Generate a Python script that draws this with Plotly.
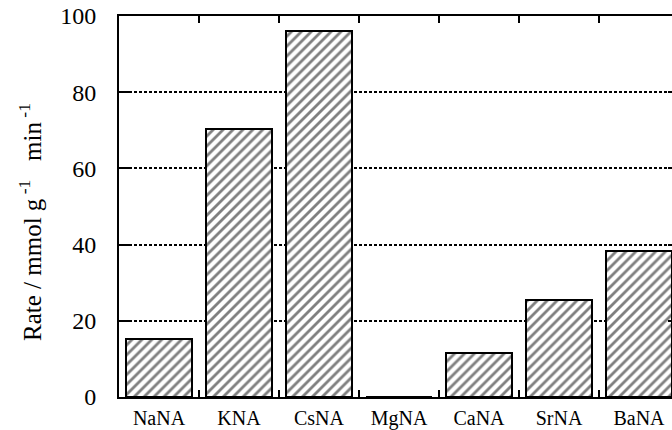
import plotly.graph_objects as go

# Catalyst samples and measured rates
catalysts = ["NaNA", "KNA", "CsNA", "MgNA", "CaNA", "SrNA", "BaNA"]
rates = [15.2, 70.3, 96.1, 0.0, 11.5, 25.5, 38.4]
y_ticks = [0, 20, 40, 60, 80, 100]

SERIF = "Liberation Serif, Times New Roman, serif"

fig = go.Figure()
fig.add_trace(go.Bar(
    x=catalysts,
    y=rates,
    width=0.82,
    marker=dict(
        color="white",
        line=dict(color="black", width=2),
        pattern=dict(shape="/", fgcolor="black", bgcolor="white",
                     size=7, solidity=0.4),
    ),
    showlegend=False,
    hoverinfo="x+y",
))
# invisible helper trace carrying the mirrored right-hand y ticks
fig.add_trace(go.Scatter(x=[catalysts[0]], y=[0], yaxis="y2",
                         mode="markers", marker=dict(opacity=0),
                         showlegend=False, hoverinfo="skip"))

fig.update_layout(
    width=672, height=430,
    margin=dict(l=119, r=0, t=16, b=33),
    plot_bgcolor="white", paper_bgcolor="white",
    font=dict(family=SERIF, color="black"),
    bargap=0,
    xaxis=dict(
        type="category",
        categoryorder="array", categoryarray=catalysts,
        range=[-0.5, 6.4125],
        showline=True, linecolor="black", linewidth=2,
        mirror="ticks",
        ticks="inside", tickson="boundaries",
        ticklen=7, tickwidth=1.5, tickcolor="black",
        tickfont=dict(size=20, family=SERIF),
        showgrid=False, zeroline=False,
        ticklabelstandoff=2,
    ),
    yaxis=dict(
        range=[0, 100],
        tickvals=y_ticks,
        showline=True, linecolor="black", linewidth=2,
        ticks="inside", ticklen=10, tickwidth=2, tickcolor="black",
        tickfont=dict(size=24, family=SERIF),
        showgrid=True, gridcolor="black", gridwidth=2,
        griddash="3px,2px",
        zeroline=False,
        ticklabelstandoff=16,
    ),
    yaxis2=dict(
        overlaying="y", side="right", range=[0, 100],
        tickvals=y_ticks, showticklabels=False,
        ticks="inside", ticklen=4, tickwidth=2, tickcolor="black",
        showline=False, showgrid=False, zeroline=False,
    ),
    annotations=[dict(
        text="Rate / mmol g<sup>&nbsp;-1</sup>&nbsp;&nbsp; min<sup>&nbsp;-1</sup>",
        xref="paper", yref="paper",
        x=-(119 - 30) / 553, y=(397 - 222) / 381,
        xanchor="center", yanchor="middle",
        textangle=-90, showarrow=False,
        font=dict(size=25, family=SERIF, color="black"),
    )],
)

fig.write_html("out.html")
